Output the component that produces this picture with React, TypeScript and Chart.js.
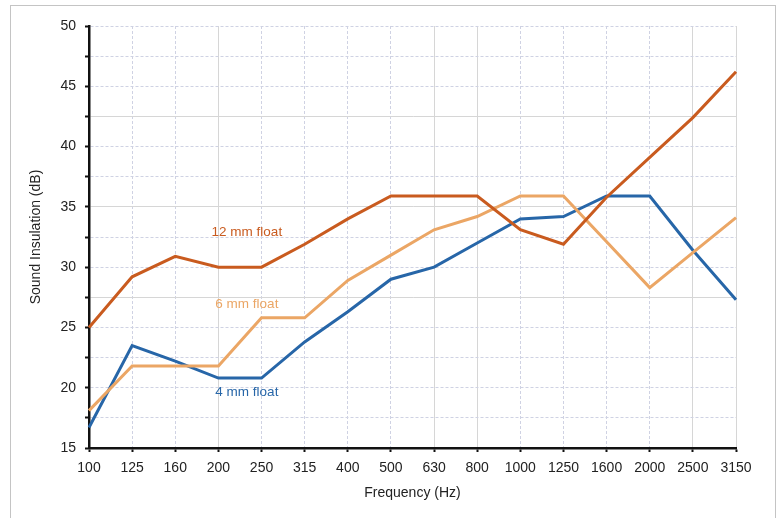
import React, { useEffect, useRef } from "react";
import { Chart, registerables } from "chart.js";

Chart.register(...registerables);

const frequencies = ["100", "125", "160", "200", "250", "315", "400", "500", "630", "800", "1000", "1250", "1600", "2000", "2500", "3150"];
const float12mm = [25.0, 29.2, 30.9, 30.0, 30.0, 31.9, 34.0, 35.9, 35.9, 35.9, 33.1, 31.9, 35.8, 39.1, 42.4, 46.2];
const float6mm = [18.1, 21.8, 21.8, 21.8, 25.8, 25.8, 28.9, 31.0, 33.1, 34.2, 35.9, 35.9, 32.1, 28.3, 31.2, 34.1];
const float4mm = [16.7, 23.5, 22.2, 20.8, 20.8, 23.8, 26.3, 29.0, 30.0, 32.0, 34.0, 34.2, 35.9, 35.9, 31.4, 27.3];

const seriesNames = ["12 mm float", "6 mm float", "4 mm float"];
const seriesColors = ["#c95b1f", "#eba665", "#2766a8"];
// label anchors in data coordinates (category index, dB)
const labelIndex = [3.66, 3.66, 3.66];
const labelValue = [32.9, 26.9, 19.6];

const yMin = 15;
const yMax = 50;
const yStep = 2.5;
const solidY = [42.5, 35, 27.5];
const solidXIndex = [3, 8, 9, 14, 15];

const FONT = "'Liberation Sans', Arial, Helvetica, sans-serif";

const seriesLabelPlugin = {
  id: "seriesLabels",
  afterDatasetsDraw(chart: any) {
    const { ctx, scales } = chart;
    ctx.save();
    ctx.font = `13.5px ${FONT}`;
    ctx.textAlign = "center";
    ctx.textBaseline = "middle";
    seriesNames.forEach((name, i) => {
      const x = scales.x.getPixelForValue(labelIndex[i]);
      const y = scales.y.getPixelForValue(labelValue[i]);
      ctx.fillStyle = seriesColors[i];
      ctx.fillText(name, x, y);
    });
    ctx.restore();
  },
};

export default function App() {
  const canvasRef = useRef<HTMLCanvasElement | null>(null);

  useEffect(() => {
    if (!canvasRef.current) return;
    const datasets = [float12mm, float6mm, float4mm].map((d, i) => ({
      label: seriesNames[i],
      data: d,
      borderColor: seriesColors[i],
      backgroundColor: seriesColors[i],
      borderWidth: 3,
      pointRadius: 0,
      tension: 0,
      fill: false,
    }));
    const chart = new Chart(canvasRef.current, {
      type: "line",
      data: { labels: frequencies, datasets },
      plugins: [seriesLabelPlugin],
      options: {
        animation: false,
        responsive: false,
        maintainAspectRatio: false,
        layout: { padding: { top: 26, right: 46, left: 0, bottom: 0 } },
        plugins: { legend: { display: false }, tooltip: { enabled: false } },
        scales: {
          x: {
            type: "category",
            offset: false,
            afterFit: (s: any) => {
              s.height = 70;
            },
            grid: {
              color: (c: any) => (solidXIndex.includes(c.index) ? "#d6d6d6" : "#cfd2e3"),
              lineWidth: 1,
              tickColor: "#111",
              tickWidth: 2,
              tickLength: 4,
            },
            border: {
              display: true,
              color: "#111",
              width: 2.5,
              dash: (c: any) => (c && c.tick && solidXIndex.includes(c.index) ? [] : [3, 2]),
            },
            ticks: {
              autoSkip: false,
              maxRotation: 0,
              color: "#222",
              padding: 8,
              font: { family: FONT, size: 14 },
            },
            title: {
              display: true,
              text: "Frequency (Hz)",
              color: "#222",
              padding: 16,
              font: { family: FONT, size: 14 },
            },
          },
          y: {
            min: yMin,
            max: yMax,
            afterFit: (s: any) => {
              s.width = 89;
            },
            grid: {
              color: (c: any) => (c.tick && solidY.includes(c.tick.value) ? "#d6d6d6" : "#cfd2e3"),
              lineWidth: 1,
              tickColor: "#111",
              tickWidth: 2,
              tickLength: 4,
            },
            border: {
              display: true,
              color: "#111",
              width: 2.5,
              dash: (c: any) => (c && c.tick && solidY.includes(c.tick.value) ? [] : [3, 2]),
            },
            ticks: {
              stepSize: yStep,
              color: "#222",
              padding: 9,
              font: { family: FONT, size: 14 },
              callback: (v: any) => (Number(v) % 5 === 0 ? String(v) : ""),
            },
            title: {
              display: true,
              text: "Sound Insulation (dB)",
              color: "#222",
              padding: 28,
              font: { family: FONT, size: 14 },
            },
          },
        },
      },
    } as any);
    return () => chart.destroy();
  }, []);

  return (
    <div style={{ position: "fixed", left: 0, top: 0, width: 782, height: 518, background: "#fff", overflow: "hidden" }}>
      <div
        style={{
          position: "absolute",
          left: 10,
          top: 5,
          width: 766,
          height: 530,
          border: "1px solid #c4c4c4",
          boxSizing: "border-box",
        }}
      />
      <canvas ref={canvasRef} width={782} height={518} style={{ position: "absolute", left: 0, top: 0, width: 782, height: 518 }} />
    </div>
  );
}
